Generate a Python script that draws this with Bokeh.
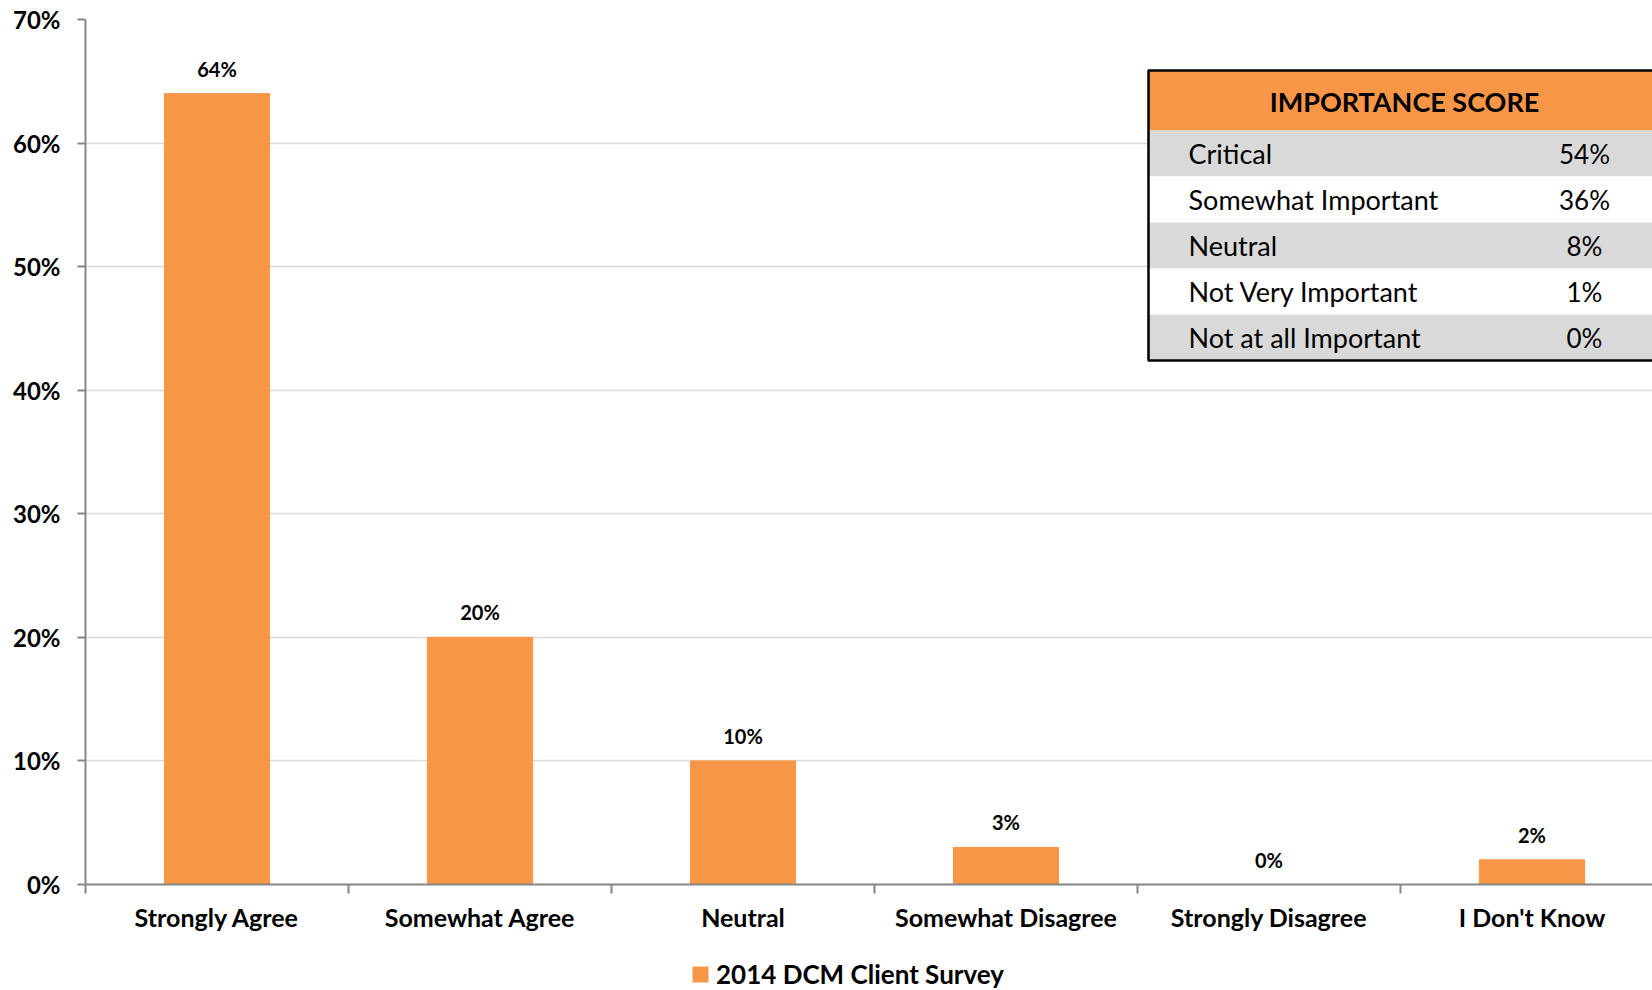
from bokeh.plotting import figure
from bokeh.layouts import column
from bokeh.models import (Range1d, FixedTicker, NumeralTickFormatter, Legend, LegendItem)
from bokeh.core.properties import value
from bokeh.embed import file_html
from bokeh.resources import INLINE

# ---- data ----
categories = ["Strongly Agree", "Somewhat Agree", "Neutral",
              "Somewhat Disagree", "Strongly Disagree", "I Don't Know"]
survey_2014 = [0.64, 0.20, 0.10, 0.03, 0.00, 0.02]
series_name = "2014 DCM Client Survey"

table_title = "IMPORTANCE SCORE"
table_labels = ["Critical", "Somewhat Important", "Neutral",
                "Not Very Important", "Not at all Important"]
table_values = ["54%", "36%", "8%", "1%", "0%"]

y_ticks = [0.0, 0.1, 0.2, 0.3, 0.4, 0.5, 0.6, 0.7]

# ---- styling / layout ----
ORANGE = "#F79646"
GRAY_ROW = "#D9D9D9"
AXIS_GRAY = "#868686"
FONT = "Lato"

W, H = 1652, 990
LEG_H = 40
MAIN_H = H - LEG_H
LEFT, TOP, BOTTOM = 85, 19, 66
CAT_PX = 263.0
frame_w = W - LEFT
frame_h = MAIN_H - TOP - BOTTOM
x_end = frame_w / CAT_PX
y_end = 0.7

p = figure(width=W, height=MAIN_H, output_backend="svg", toolbar_location=None,
           x_range=Range1d(0, x_end), y_range=Range1d(0, y_end),
           min_border_left=LEFT, min_border_right=0,
           min_border_top=TOP, min_border_bottom=BOTTOM)
p.outline_line_color = None
p.background_fill_color = "white"
p.border_fill_color = "white"

xs = [i + 0.5 for i in range(len(categories))]
bars = p.vbar(x=xs, top=survey_2014, width=0.40, fill_color=ORANGE,
              line_color=ORANGE)

# data labels
labels = ["%d%%" % round(v * 100) for v in survey_2014]
p.text(x=xs, y=survey_2014, text=labels, text_align="center",
       text_baseline="middle", y_offset=-25,
       text_font=value(FONT), text_font_style="bold", text_font_size="20px",
       text_color="black")

# ---- axes ----
xa = p.xaxis[0]
xa.ticker = FixedTicker(ticks=xs, minor_ticks=list(range(len(categories))))
xa.major_label_overrides = {x: c for x, c in zip(xs, categories)}
xa.major_tick_out = 0
xa.major_tick_in = 0
xa.minor_tick_out = 9
xa.minor_tick_in = 0
xa.minor_tick_line_color = AXIS_GRAY
xa.minor_tick_line_width = 2
xa.axis_line_color = AXIS_GRAY
xa.axis_line_width = 2
xa.major_label_text_font = FONT
xa.major_label_text_font_style = "bold"
xa.major_label_text_font_size = "25px"
xa.major_label_text_color = "black"
xa.major_label_standoff = 8

ya = p.yaxis[0]
ya.ticker = FixedTicker(ticks=y_ticks)
ya.formatter = NumeralTickFormatter(format="0%")
ya.major_tick_out = 8
ya.major_tick_in = 0
ya.minor_tick_out = 0
ya.minor_tick_in = 0
ya.major_tick_line_color = AXIS_GRAY
ya.major_tick_line_width = 2
ya.axis_line_color = AXIS_GRAY
ya.axis_line_width = 2
ya.major_label_text_font = FONT
ya.major_label_text_font_style = "bold"
ya.major_label_text_font_size = "24px"
ya.major_label_text_color = "black"
ya.major_label_standoff = 17

p.xgrid.grid_line_color = None
p.ygrid.grid_line_color = GRAY_ROW
p.ygrid.grid_line_width = 1.5
p.ygrid.ticker = FixedTicker(ticks=y_ticks)

# ---- importance-score table (annotation) ----
def px_x(px):
    return (px - LEFT) / CAT_PX

def px_y(py):
    return (TOP + frame_h - py) * y_end / frame_h

t_left, t_right = px_x(1148), px_x(1760)
head_top, head_bot = 70, 130
row_h = 46
p.quad(left=[t_left], right=[t_right], top=[px_y(head_top)], bottom=[px_y(head_bot)],
       fill_color=ORANGE, line_color=None)
row_tops = [head_bot + i * row_h for i in range(len(table_labels))]
row_fill = [GRAY_ROW if i % 2 == 0 else "white" for i in range(len(table_labels))]
p.quad(left=[t_left] * len(row_tops), right=[t_right] * len(row_tops),
       top=[px_y(t) for t in row_tops], bottom=[px_y(t + row_h) for t in row_tops],
       fill_color=row_fill, line_color=None)
p.quad(left=[t_left], right=[t_right], top=[px_y(head_top)],
       bottom=[px_y(head_bot + row_h * len(table_labels))],
       fill_color=None, line_color="black", line_width=2.5)
p.text(x=[px_x(1404)], y=[px_y(101)], text=[table_title], text_align="center",
       text_baseline="middle", text_font=value(FONT), text_font_style="bold",
       text_font_size="27px", text_color="black")
row_centers = [px_y(t + row_h / 2) for t in row_tops]
p.text(x=[px_x(1188)] * len(row_tops), y=row_centers, text=table_labels,
       text_align="left", text_baseline="middle", text_font=value(FONT),
       text_font_size="27px", text_color="black")
p.text(x=[px_x(1584)] * len(row_tops), y=row_centers, text=table_values,
       text_align="center", text_baseline="middle", text_font=value(FONT),
       text_font_size="26px", text_color="black")

# ---- legend (own strip below the chart) ----
pl = figure(width=W, height=LEG_H, output_backend="svg", toolbar_location=None,
            x_range=Range1d(0, 1), y_range=Range1d(0, 1),
            min_border_left=LEFT, min_border_right=0,
            min_border_top=0, min_border_bottom=0)
pl.axis.visible = False
pl.grid.visible = False
pl.outline_line_color = None
# zero-size swatch renderer; only used to give the legend its orange square
leg_r = pl.vbar(x=[0.5], bottom=[0], top=[0], width=0,
                fill_color=ORANGE, line_color=None)
legend = Legend(items=[LegendItem(label=series_name, renderers=[leg_r])],
                location=(690 - LEFT, 0), orientation="horizontal",
                border_line_color=None, background_fill_alpha=0,
                padding=0, margin=0, glyph_width=20, glyph_height=20,
                label_standoff=6, label_text_font=FONT,
                label_text_font_style="bold", label_text_font_size="26px",
                label_text_color="black")
pl.add_layout(legend, "center")

layout = column(p, pl, spacing=0)
open("out.html", "w").write(file_html(layout, INLINE))
